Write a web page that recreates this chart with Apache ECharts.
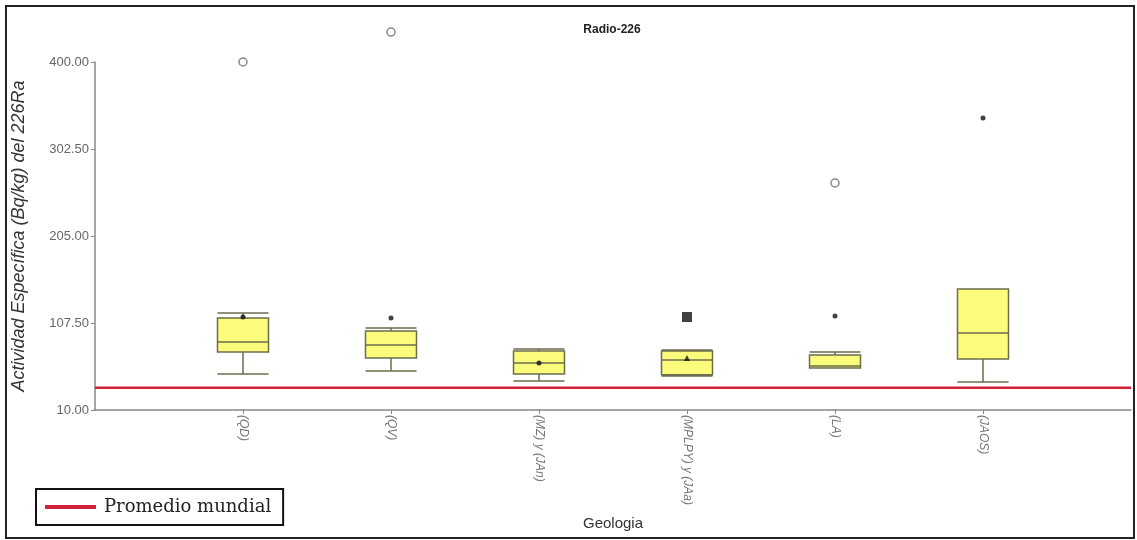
<!DOCTYPE html>
<html>
<head>
<meta charset="utf-8">
<script src="https://cdn.jsdelivr.net/npm/echarts@6/dist/echarts.min.js"></script>
<style>
html,body{margin:0;padding:0;background:#fff;}
#chart{width:1137px;height:540px;}
</style>
</head>
<body>
<div id="chart"></div>
<script>
const categories = ['(QD)', '(QV)', '(MZ) y (JAn)', '(MPLPY) y (JAa)', '(LA)', '(JAOS)'];
const boxMin    = [50.3, 53.7, 42.5, 48.0, 57.0, 41.4];
const boxQ1     = [75.0, 68.3, 50.3, 49.5, 57.1, 67.2];
const boxMedian = [86.2, 82.8, 62.7, 66.0, 59.3, 96.3];
const boxQ3     = [113.1, 98.5, 76.1, 76.1, 71.6, 145.6];
const boxMax    = [118.7, 101.9, 78.4, 77.2, 75.0, 145.6];
const meanValues = [114.2, 113.1, 62.7, 68.3, 115.3, 337.2];
const outlierCats = [0, 1, 4];
const outlierValues = [400.0, 433.6, 264.4];
const extremeCats = [3];
const extremeValues = [114.2];
const worldAverage = 35;
const yTicks = [10, 107.5, 205, 302.5, 400];
const seriesNames = ['Promedio mundial'];

const axisCats = [''].concat(categories, ['']);
const boxData = categories.map((c, i) => [i + 1, boxMin[i], boxQ1[i], boxMedian[i], boxQ3[i], boxMax[i]]);
const meanData = meanValues.map((v, i) => [i + 1, v]);
const outlierData = outlierCats.map((c, i) => [c + 1, outlierValues[i]]);
const extremeData = extremeCats.map((c, i) => [c + 1, extremeValues[i]]);
const lastIdx = axisCats.length - 1;

const chart = echarts.init(document.getElementById('chart'), null, {renderer: 'canvas'});
chart.setOption({
  animation: false,
  backgroundColor: '#fff',
  title: {
    text: 'Radio-226', left: 607, textAlign: 'center', top: 19,
    textStyle: {fontFamily: 'Liberation Sans', fontSize: 12, fontWeight: 'bold', color: '#222'}
  },
  graphic: [{
    type: 'rect', shape: {x: 6, y: 6, width: 1128, height: 532},
    style: {fill: 'none', stroke: '#222', lineWidth: 2}, silent: true
  }],
  legend: {
    data: seriesNames, left: 36, top: 489,
    icon: 'rect', itemWidth: 51, itemHeight: 4, itemGap: 8,
    padding: [9, 12, 9, 9], borderColor: '#111', borderWidth: 2,
    textStyle: {fontFamily: 'DejaVu Serif', fontSize: 18, color: '#222', padding: [0, 0, 0, 3]}
  },
  grid: {left: 95, right: 6, top: 62, bottom: 130},
  xAxis: {
    type: 'category', data: axisCats, boundaryGap: false,
    name: 'Geologia', nameLocation: 'middle', nameGap: 106,
    nameTextStyle: {fontFamily: 'Liberation Sans', fontSize: 15, color: '#333'},
    axisLine: {lineStyle: {color: '#888', width: 1.5}},
    axisTick: {length: 4, lineStyle: {color: '#888'}, interval: (i) => i > 0 && i < lastIdx},
    axisLabel: {rotate: -90, fontSize: 12, fontStyle: 'italic', color: '#777', margin: 5, interval: 0,
      fontFamily: 'Liberation Sans'},
    splitLine: {show: false}
  },
  yAxis: {
    type: 'value', min: 10, max: 400,
    name: 'Actividad Específica (Bq/kg) del 226Ra', nameLocation: 'middle', nameGap: 67, nameRotate: 90,
    nameTextStyle: {fontFamily: 'Liberation Sans', fontSize: 18, fontStyle: 'italic', color: '#333'},
    axisLine: {show: true, lineStyle: {color: '#888', width: 1.5}},
    axisTick: {show: true, length: 4, lineStyle: {color: '#888'}, customValues: yTicks},
    axisLabel: {customValues: yTicks, fontSize: 13, color: '#666', margin: 6, fontFamily: 'Liberation Sans',
      formatter: (v) => Number(v).toFixed(2)},
    splitLine: {show: false}
  },
  series: [
    {
      name: seriesNames[0], type: 'line', data: [[0, worldAverage], [lastIdx, worldAverage]],
      symbol: 'none', lineStyle: {color: '#d3203a', width: 2.5}, itemStyle: {color: '#d3203a'}, z: 1
    },
    {
      name: 'box', type: 'boxplot', data: boxData, encode: {x: 0, y: [1, 2, 3, 4, 5]},
      boxWidth: [51, 51],
      itemStyle: {color: '#fbfb7c', borderColor: '#6e6e4e', borderWidth: 1.5}, z: 2
    },
    {
      name: 'mean', type: 'scatter', data: meanData, clip: false,
      symbol: (v, p) => p.dataIndex === 3 ? 'triangle' : 'circle',
      symbolSize: (v, p) => p.dataIndex === 3 ? 6 : 5,
      itemStyle: {color: '#111'}, z: 5
    },
    {
      name: 'outlier', type: 'scatter', data: outlierData, clip: false,
      symbol: 'circle', symbolSize: 8,
      itemStyle: {color: '#ffffff', borderColor: '#888888', borderWidth: 1.5, opacity: 1}, z: 6
    },
    {
      name: 'extreme', type: 'scatter', data: extremeData, clip: false,
      symbol: 'rect', symbolSize: 10, itemStyle: {color: '#111'}, z: 5
    }
  ]
});
</script>
</body>
</html>
